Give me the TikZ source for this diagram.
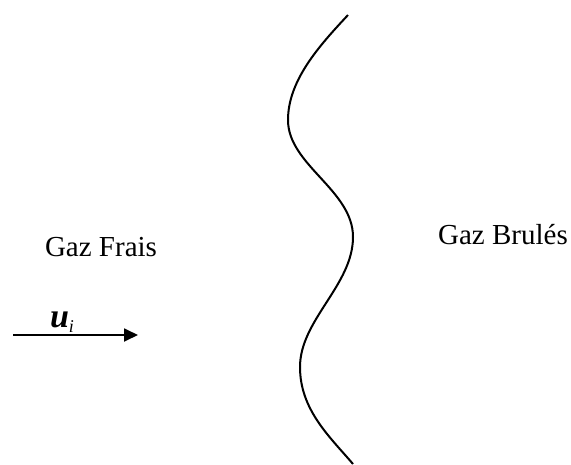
\documentclass[tikz,border=0pt]{standalone}
\usepackage{fontspec}
\setmainfont{Liberation Serif}
\usetikzlibrary{arrows.meta}
\tikzset{
  label/.style={inner sep=0pt, anchor=base, font=\fontsize{29}{33}\selectfont},
  front/.style={line width=2pt},
  flow/.style={line width=1.8pt, -{Triangle[length=14pt,width=13pt]}}
}
\begin{document}
\begin{tikzpicture}[x=1pt,y=-1pt]
  \useasboundingbox (0,0) rectangle (571,464);
  % flame front
  \coordinate (f0) at (348,15);
  \coordinate (f1) at (288,120);
  \coordinate (f2) at (353,237);
  \coordinate (f3) at (300,367);
  \coordinate (f4) at (353,464);
  \draw[front] (f0) .. controls (320,45) and (288,80) .. (f1)
                   .. controls (288,165) and (353,190) .. (f2)
                   .. controls (353,285) and (300,320) .. (f3)
                   .. controls (300,410) and (330,437) .. (f4);
  % region labels
  \node[label] (fresh) at (101,256) {Gaz Frais};
  \node[label] (burnt) at (503,244) {Gaz Brulés};
  % inlet velocity
  \coordinate (s) at (13,335);
  \coordinate (t) at (138,335);
  \draw[flow] (s) -- (t);
  \node[inner sep=0pt, anchor=base] (u) at (62,327)
    {\fontsize{34}{38}\selectfont\textbf{\textit{u}}\raisebox{-5pt}{\fontsize{18}{20}\selectfont\textit{i}}};
\end{tikzpicture}
\end{document}
